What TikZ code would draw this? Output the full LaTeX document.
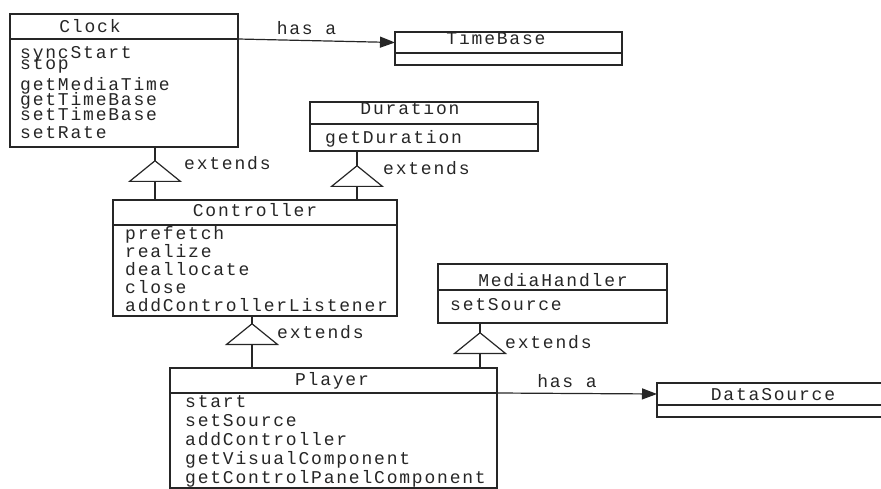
\documentclass[tikz,border=0pt]{standalone}
\usepackage{fontspec}
\newfontfamily\umlfont[LetterSpace=10]{Liberation Mono}
\newcommand{\umlsize}{\umlfont\fontsize{18}{18}\selectfont}
\usetikzlibrary{arrows.meta}
\usetikzlibrary{positioning}

\begin{document}
\begin{tikzpicture}[
        x=1pt, y=-1pt,
        box/.style={rectangle, draw=black!85, line width=1.2pt, inner sep=0pt, outer sep=0pt},
        classname/.style={anchor=base, inner sep=0pt, font=\umlsize, text=black!85},
        ops/.style={anchor=north west, inner sep=0pt, align=left, font={\umlsize\lineskiplimit=-50pt}, text=black!85},
        note/.style={anchor=base west, inner sep=0pt, font=\umlsize, text=black!85},
        relation/.style={above=5pt, midway, xshift=-10pt, inner sep=0pt, font=\umlsize, text=black!85},
        hasa/.style={draw=black!85, line width=1.2pt, -{Triangle[length=15pt, width=11pt]}},
        extends/.style={draw=black!85, line width=1.2pt, postaction={draw, -{Triangle[length=22pt, width=54pt, fill=white]}, shorten >=#1}},
        extends/.default=12pt
    ]
    \useasboundingbox (0,0) rectangle (881,489);

    % Clock
    \node[box, minimum width=228, minimum height=25, anchor=north west] (clock) at (10,14) {};
    \node[box, minimum width=228, minimum height=108, below=0pt of clock] (clockops) {};
    \node[classname] (clockname) at (90,33) {Clock};
    \node[ops] (clocklist) at (20,46) {syncStart\\[-7pt]stop\\[3pt]getMediaTime\\[-3pt]getTimeBase\\[-3pt]setTimeBase\\setRate};

    % TimeBase
    \node[box, minimum width=227, minimum height=21, anchor=north west] (timebase) at (395,32) {};
    \node[box, minimum width=227, minimum height=12, below=0pt of timebase] (timebaseops) {};
    \node[classname] (timebasename) at (496,45) {TimeBase};

    % Duration
    \node[box, minimum width=228, minimum height=22, anchor=north west] (duration) at (310,102) {};
    \node[box, minimum width=228, minimum height=27, below=0pt of duration] (durationops) {};
    \node[classname] (durationname) at (410,115) {Duration};
    \node[ops] (durationlist) at (325,130) {getDuration};

    % Controller
    \node[box, minimum width=284, minimum height=25, anchor=north west] (controller) at (113,200) {};
    \node[box, minimum width=284, minimum height=91, below=0pt of controller] (controllerops) {};
    \node[classname] (controllername) at (255,217) {Controller};
    \node[ops] (controllerlist) at (125,226) {prefetch\\realize\\deallocate\\close\\addControllerListener};

    % MediaHandler
    \node[box, minimum width=229, minimum height=26, anchor=north west] (mediahandler) at (438,264) {};
    \node[box, minimum width=229, minimum height=33, below=0pt of mediahandler] (mediahandlerops) {};
    \node[classname] (mediahandlername) at (553,286) {MediaHandler};
    \node[ops] (mediahandlerlist) at (450,298) {setSource};

    % Player
    \node[box, minimum width=327, minimum height=25, anchor=north west] (player) at (170,368) {};
    \node[box, minimum width=327, minimum height=95, below=0pt of player] (playerops) {};
    \node[classname] (playername) at (332,385) {Player};
    \node[ops] (playerlist) at (185,395) {start\\[1pt]setSource\\[1pt]addController\\[1pt]getVisualComponent\\[1pt]getControlPanelComponent};

    % DataSource
    \node[box, minimum width=243, minimum height=22, anchor=north west] (datasource) at (657,383) {};
    \node[box, minimum width=243, minimum height=12, below=0pt of datasource] (datasourceops) {};
    \node[classname] (datasourcename) at (773,400) {DataSource};

    % has a
    \draw[hasa] (clock.south east) -- node[relation] (hasa1) {has a} (timebase.west);
    \draw[hasa] (player.south east) -- node[relation] (hasa2) {has a} (datasource.west);

    % extends
    \draw[extends=13pt] (controller.north -| 155,0) -- (clockops.south -| 155,0);
    \draw[extends=14pt] (controller.north -| 357,0) -- (durationops.south -| 357,0);
    \draw[extends=7pt] (player.north -| 252,0) -- (controllerops.south -| 252,0);
    \draw[extends=9pt] (player.north -| 480,0) -- (mediahandlerops.south -| 480,0);
    \node[note] (ext1) at (184,170) {extends};
    \node[note] (ext2) at (383,175) {extends};
    \node[note] (ext3) at (277,338) {extends};
    \node[note] (ext4) at (505,348) {extends};

\end{tikzpicture}
\end{document}
